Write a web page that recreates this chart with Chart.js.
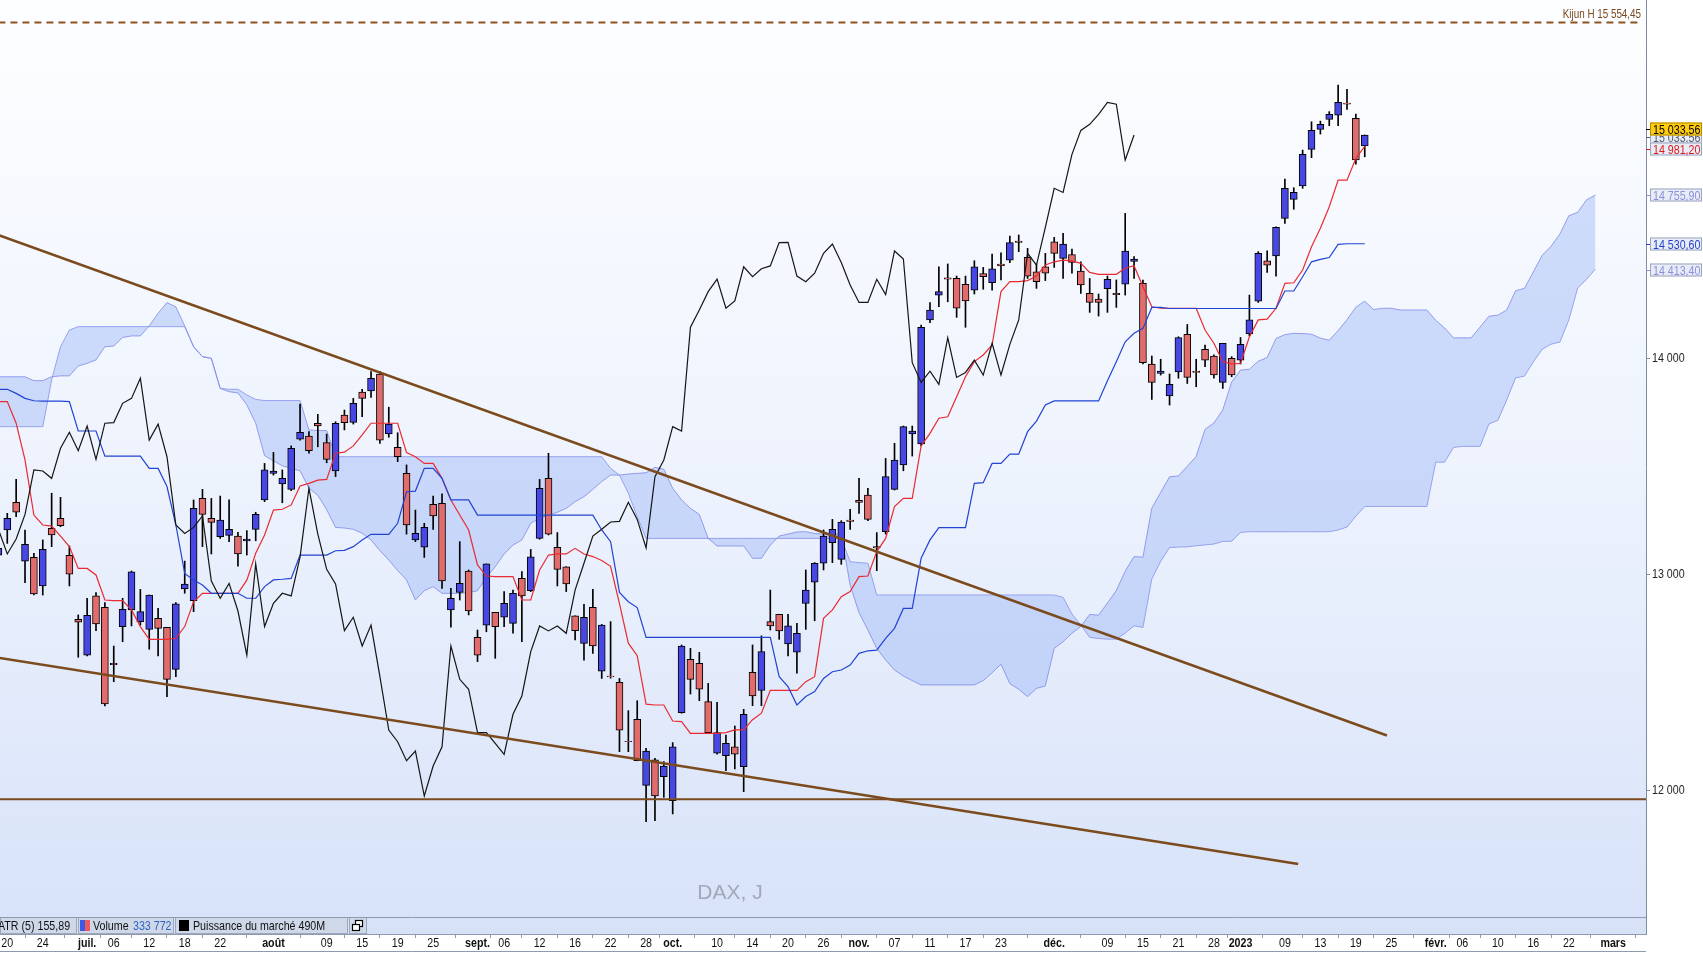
<!DOCTYPE html>
<html lang="fr">
  <head>
    <meta charset="UTF-8" />
    <title>DAX, J</title>
    <script src="https://cdn.jsdelivr.net/npm/chart.js@4"></script>
    <style>
      html, body { margin: 0; padding: 0; background: #fff; }
      #wrap { width: 1703px; height: 953px; }
    </style>
  </head>
  <body>
    <div id="wrap"><canvas id="daxChart" width="1703" height="953"></canvas></div>

    <script>
      // daily candles, index 0 = 17 juin 2022 ... 154 = 20 janv. 2023
      const opens = [
        13090, 13206, 13334, 13062, 13079, 12947, 13214, 13260, 13089, 12792,
        12627, 12901, 12848, 12589, 12759, 12836, 12782, 12746, 12797, 12755,
        12561, 12933, 12879, 13352, 13260, 13175, 13181, 13178, 13155, 13209,
        13345, 13468, 13419, 13394, 13626, 13641, 13700, 13610, 13479, 13738,
        13704, 13844, 13849, 13928, 13650, 13588, 13468, 13160, 13126, 13325,
        13329, 12836, 12917, 13016, 12709, 12766, 12825, 12802, 12774, 12982,
        12925, 13167, 13445, 13126, 13036, 12809, 12681, 12848, 12553, 12530,
        12501, 12228, 12330, 12024, 12142, 12064, 11953, 12361, 12608, 12589,
        12412, 12173, 12162, 12203, 12111, 12547, 12463, 12782, 12816, 12679,
        12640, 12866, 12964, 13052, 13147, 13070, 13252, 13343, 13368, 13129,
        13198, 13394, 13507, 13650, 13604, 14178, 14293, 14373, 14370, 14343,
        14316, 14393, 14350, 14437, 14455, 14543, 14468, 14401, 14424, 14540,
        14463, 14481, 14404, 14301, 14275, 14323, 14301, 14343, 14449, 14347,
        13974, 13931, 13826, 13938, 14111, 13941, 14042, 14011, 13889, 14000,
        13992, 14113, 14265, 14451, 14474, 14648, 14736, 14798, 14967, 15060,
        15106, 15126, 15182, 15111, 14983
      ];
      const highs = [
        13144, 13283, 13440, 13206, 13098, 13160, 13376, 13357, 13132, 12813,
        12890, 12916, 12870, 12669, 12890, 13016, 12931, 12905, 12843, 12755,
        12870, 13062, 13345, 13394, 13352, 13363, 13345, 13195, 13203, 13288,
        13514, 13565, 13484, 13595, 13789, 13661, 13741, 13650, 13707, 13761,
        13815, 13857, 13939, 13939, 13774, 13656, 13507, 13298, 13237, 13363,
        13373, 12936, 13152, 13021, 12743, 13049, 12825, 12921, 12928, 13013,
        13116, 13440, 13561, 13194, 13036, 12809, 12862, 12931, 12769, 12782,
        12519, 12370, 12416, 12196, 12149, 12134, 12222, 12674, 12658, 12640,
        12496, 12409, 12257, 12299, 12376, 12674, 12716, 12928, 12816, 12816,
        12774, 13021, 13055, 13206, 13255, 13249, 13302, 13445, 13399, 13194,
        13537, 13607, 13687, 13687, 14154, 14258, 14424, 14437, 14381, 14381,
        14452, 14421, 14483, 14489, 14566, 14571, 14509, 14437, 14486, 14560,
        14579, 14506, 14447, 14370, 14298, 14381, 14363, 14671, 14471, 14363,
        14011, 13996, 13928, 14100, 14157, 13996, 14062, 14016, 14070, 14008,
        14097, 14293, 14494, 14498, 14609, 14830, 14790, 14964, 15095, 15098,
        15142, 15265, 15245, 15131, 15034
      ];
      const lows = [
        13083, 13144, 13268, 12962, 12905, 12905, 13129, 13221, 12947, 12617,
        12623, 12740, 12392, 12504, 12689, 12762, 12766, 12654, 12623, 12435,
        12527, 12913, 12828, 13129, 13095, 13167, 13152, 13039, 13090, 13156,
        13337, 13460, 13332, 13388, 13622, 13561, 13591, 13517, 13453, 13669,
        13696, 13730, 13820, 13607, 13635, 13522, 13187, 13152, 13079, 13209,
        12936, 12756, 12882, 12813, 12597, 12735, 12612, 12759, 12728, 12689,
        12921, 13163, 13183, 12947, 12921, 12697, 12604, 12635, 12519, 12520,
        12180, 12180, 12138, 11856, 11861, 11969, 11892, 12358, 12447, 12416,
        12265, 12169, 12092, 12100, 11995, 12393, 12393, 12743, 12700, 12623,
        12543, 12746, 12786, 13021, 13055, 13047, 13209, 13283, 13249, 13018,
        13187, 13391, 13480, 13548, 13595, 14165, 14239, 14262, 14190, 14144,
        14298, 14320, 14316, 14363, 14443, 14494, 14370, 14324, 14360, 14421,
        14370, 14394, 14301, 14213, 14196, 14213, 14236, 14293, 14370, 13974,
        13810, 13923, 13784, 13908, 13884, 13869, 13962, 13908, 13861, 13915,
        13974, 14104, 14259, 14398, 14381, 14625, 14690, 14787, 14929, 15038,
        15077, 15077, 15152, 14899, 14933
      ];
      const closes = [
        13121, 13260, 13288, 13140, 12910, 13116, 13183, 13226, 13002, 12779,
        12811, 12771, 12401, 12583, 12839, 13012, 12828, 12905, 12751, 12515,
        12864, 12956, 13306, 13278, 13241, 13252, 13209, 13095, 13164, 13278,
        13484, 13479, 13445, 13584, 13658, 13573, 13687, 13533, 13700, 13703,
        13792, 13815, 13908, 13622, 13696, 13545, 13229, 13190, 13218, 13271,
        12970, 12890, 12959, 12831, 12627, 13049, 12759, 12867, 12913, 12901,
        13082, 13399, 13187, 13024, 12956, 12740, 12802, 12669, 12766, 12527,
        12280, 12226, 12138, 12183, 11975, 12114, 12203, 12669, 12515, 12469,
        12268, 12268, 12219, 12168, 12353, 12438, 12643, 12762, 12739, 12762,
        12728, 12928, 13052, 13178, 13209, 13243, 13246, 13334, 13255, 13123,
        13453, 13530, 13684, 13664, 14144, 14224, 14309, 14367, 14232, 14266,
        14424, 14378, 14415, 14428, 14536, 14537, 14381, 14355, 14394, 14486,
        14529, 14444, 14340, 14259, 14259, 14366, 14295, 14497, 14460, 13980,
        13889, 13941, 13880, 14096, 13912, 13935, 13992, 13923, 14070, 13923,
        14065, 14178, 14486, 14432, 14606, 14787, 14768, 14944, 15055, 15083,
        15129, 15185, 15176, 14918, 15033.56
      ];

      // Ichimoku lines
      const tenkan = [
        13800, 13800, 13700, 13530, 13275, 13229, 13224, 13178, 13129, 13028,
        13028, 12998, 12882, 12879, 12879, 12836, 12759, 12700, 12700, 12700,
        12705, 12759, 12874, 12913, 12913, 12913, 12913, 12913, 12974, 13098,
        13183, 13298, 13302, 13322, 13410, 13422, 13437, 13440, 13561, 13566,
        13595, 13646, 13700, 13700, 13700, 13700, 13564, 13545, 13514, 13514,
        13445, 13345, 13275, 13206, 13044, 12993, 12990, 12990, 12990, 12882,
        12882, 13021, 13090, 13095, 13095, 13121, 13095, 13083, 13065, 13038,
        12865, 12682, 12624, 12400, 12396, 12396, 12322, 12319, 12265, 12265,
        12265, 12265, 12268, 12281, 12281, 12328, 12358, 12464, 12464, 12464,
        12464, 12504, 12527, 12797, 12836, 12897, 12921, 12990, 12993, 13106,
        13167, 13314, 13352, 13352, 13595, 13653, 13723, 13730, 13823, 13915,
        13985, 14016, 14062, 14309, 14355, 14355, 14360, 14381, 14432, 14447,
        14455, 14451, 14440, 14398, 14389, 14389, 14389, 14417, 14429, 14332,
        14239, 14232, 14232, 14232, 14232, 14232, 14131, 14070, 13985, 13974,
        13977, 14100, 14178, 14182, 14232, 14347, 14350, 14409, 14517, 14602,
        14702, 14825, 14825, 14926, 14981.2
      ];
      const kijun = [
        13857, 13857, 13838, 13815, 13804, 13802, 13802, 13802, 13800, 13664,
        13664, 13664, 13548, 13548, 13548, 13548, 13548, 13491, 13491, 13407,
        13229, 13005, 12975, 12951, 12913, 12913, 12913, 12913, 12890, 12890,
        12944, 12975, 12978, 12982, 13090, 13090, 13090, 13090, 13110, 13112,
        13129, 13160, 13186, 13186, 13186, 13237, 13383, 13386, 13491, 13491,
        13445, 13345, 13345, 13345, 13275, 13275, 13275, 13275, 13275, 13275,
        13275, 13275, 13275, 13275, 13275, 13275, 13275, 13275, 13206, 13152,
        12917, 12874, 12847, 12709, 12709, 12709, 12709, 12709, 12709, 12709,
        12709, 12709, 12709, 12709, 12709, 12709, 12709, 12709, 12527, 12481,
        12396, 12435, 12458, 12519, 12550, 12558, 12581, 12635, 12647, 12650,
        12704, 12751, 12843, 12843, 13075, 13160, 13217, 13217, 13217, 13217,
        13422, 13425, 13514, 13514, 13557, 13557, 13661, 13710, 13784, 13803,
        13803, 13803, 13803, 13803, 13803, 13897, 13985, 14077, 14116, 14139,
        14236, 14236, 14231, 14231, 14231, 14231, 14231, 14231, 14231, 14231,
        14231, 14231, 14231, 14231, 14231, 14312, 14312, 14378, 14447, 14458,
        14467, 14528, 14530.6, 14530.6, 14530.6
      ];
      // cloud, already plotted 26 sessions ahead (index 0..180)
      const senkouA = [
        13915, 13915, 13915, 13915, 13897, 13897, 13915, 13919, 13919, 13965,
        13977, 13993, 14054, 14057, 14097, 14104, 14104, 14150, 14209, 14258,
        14239, 14150, 14054, 14008, 14000, 13861, 13846, 13840, 13785, 13700,
        13550, 13526, 13503, 13491, 13480, 13399, 13367, 13300, 13218, 13215,
        13209, 13191, 13160, 13110, 13067, 13018, 12975, 12882, 12925, 12944,
        12913, 12913, 12913, 12916, 12925, 12987, 13036, 13095, 13136, 13160,
        13237, 13260, 13275, 13288, 13306, 13337, 13360, 13394, 13430, 13460,
        13460, 13465, 13468, 13471, 13496, 13487, 13399, 13345, 13306, 13278,
        13167, 13132, 13132, 13132, 13132, 13075, 13075, 13136, 13178, 13187,
        13197, 13198, 13190, 13187, 13187, 13187, 12951, 12823, 12743, 12658,
        12604, 12558, 12530, 12509, 12489, 12489, 12489, 12489, 12489, 12489,
        12489, 12509, 12545, 12585, 12495, 12469, 12435, 12473, 12484, 12658,
        12689, 12728, 12760, 12815, 12812, 12868, 12926, 13015, 13083, 13080,
        13307, 13380, 13452, 13456, 13501, 13546, 13672, 13701, 13762, 13891,
        13946, 13950, 13987, 14004, 14092, 14110, 14116, 14115, 14112, 14094,
        14084, 14129, 14179, 14237, 14265, 14226, 14232, 14232, 14224, 14224,
        14224, 14224, 14176, 14141, 14095, 14095, 14095, 14145, 14195, 14200,
        14224, 14313, 14324, 14400, 14477, 14519, 14576, 14660, 14676, 14734,
        14755.9
      ];
      const senkouB = [
        13684, 13684, 13684, 13684, 13684, 13684, 13900, 14054, 14131, 14147,
        14147, 14147, 14147, 14147, 14147, 14147, 14147, 14147, 14147, 14147,
        14147, 14147, 14054, 14008, 14000, 13861, 13857, 13857, 13831, 13810,
        13805, 13805, 13805, 13805, 13805, 13669, 13666, 13666, 13545, 13545,
        13545, 13545, 13545, 13545, 13545, 13545, 13545, 13545, 13545, 13545,
        13545, 13545, 13545, 13545, 13545, 13545, 13545, 13545, 13545, 13545,
        13545, 13545, 13545, 13545, 13545, 13545, 13545, 13545, 13545, 13491,
        13460, 13376, 13268, 13167, 13167, 13167, 13167, 13167, 13167, 13167,
        13167, 13167, 13167, 13167, 13167, 13167, 13167, 13167, 13167, 13167,
        13167, 13167, 13167, 13167, 13167, 13167, 13059, 13055, 13052, 12905,
        12905, 12905, 12905, 12905, 12905, 12905, 12905, 12905, 12905, 12905,
        12905, 12905, 12905, 12905, 12905, 12905, 12905, 12905, 12905, 12905,
        12894, 12817, 12766, 12709, 12704, 12701, 12701, 12729, 12763, 12755,
        12980, 13061, 13125, 13127, 13128, 13133, 13137, 13141, 13153, 13154,
        13195, 13198, 13198, 13198, 13198, 13198, 13198, 13198, 13198, 13198,
        13198, 13206, 13220, 13270, 13315, 13315, 13315, 13315, 13315, 13315,
        13315, 13315, 13520, 13520, 13588, 13593, 13593, 13593, 13697, 13713,
        13807, 13910, 13918, 13984, 14042, 14066, 14076, 14178, 14326, 14366,
        14413.4
      ];

      // hand-drawn lines: [index, price]
      const trendUpper = [[0, 14571], [156.5, 12255]];
      const trendLower = [[0, 12615], [146.5, 11660]];
      const supportLevel = 11960;
      const kijunH = 15554.45;

      // x axis labels (session index -> text)
      const tickIdx = [1, 5, 10, 13, 17, 21, 25, 31, 37, 41, 45, 49, 54, 57, 61, 65, 69, 73,
        76, 81, 85, 89, 93, 97, 101, 105, 109, 113, 119, 125, 129, 133, 137, 140, 145, 149,
        153, 157, 162, 165, 169, 173, 177, 182];
      const tickText = ["20", "24", "juil.", "06", "12", "18", "22", "août", "09", "15", "19",
        "25", "sept.", "06", "12", "16", "22", "28", "oct.", "10", "14", "20", "26", "nov.",
        "07", "11", "17", "23", "déc.", "09", "15", "21", "28", "2023", "09", "13", "19",
        "25", "févr.", "06", "10", "16", "22", "mars"];
      const monthIdx = [10, 31, 54, 76, 97, 119, 140, 162, 182];
      const yTicks = [12000, 13000, 14000];

      // price tags on the right axis
      const tags = [
        { v: 15033.56, dy: 2, fg: "#555b66", bg: "#e8ecf6", bd: "#9aa5c0" },
        { v: 15033.56, dy: -6, fg: "#000", bg: "#ffcc10", bd: "#b48a00" },
        { v: 14981.2, dy: 3, fg: "#e01818", bg: "#e8ecf6", bd: "#9aa5c0" },
        { v: 14755.9, dy: 0, fg: "#8c90dc", bg: "#e8ecf6", bd: "#9aa5c0" },
        { v: 14530.6, dy: 0, fg: "#1f3fd0", bg: "#e8ecf6", bd: "#9aa5c0" },
        { v: 14413.4, dy: 1, fg: "#8c90dc", bg: "#e8ecf6", bd: "#9aa5c0" },
      ];

      const SANS = "'Liberation Sans', Arial, sans-serif";
      const SQUEEZE = 0.82; // the terminal uses a narrow face
      const LEGEND_H = 17;

      function fmt(v, dec) {
        const parts = v.toFixed(dec || 0).split(".");
        const head = parts[0].replace(/\B(?=(\d{3})+(?!\d))/g, " ");
        return parts[1] ? head + "," + parts[1] : head;
      }

      // condensed text drawing
      function say(ctx, text, x, y, opt) {
        ctx.save();
        ctx.font = (opt.bold ? "bold " : "") + opt.size + "px " + SANS;
        ctx.fillStyle = opt.color;
        ctx.textAlign = opt.align || "left";
        ctx.textBaseline = "middle";
        ctx.translate(x, y);
        ctx.scale(SQUEEZE, 1);
        ctx.fillText(text, 0, 0);
        ctx.restore();
      }

      const xy = (arr) => arr.map((v, k) => ({ x: k, y: v }));
      const seg = (pts) => pts.map((p) => ({ x: p[0], y: p[1] }));

      const bodies = opens.map((o, i) => ({ x: i, y: [o, closes[i]] }));
      const wicks = lows.map((l, i) => ({ x: i, y: [l, highs[i]] }));
      const bodyColors = opens.map((o, i) => (closes[i] >= o ? "#4747e4" : "#e26b6b"));
      // chikou = closing prices drawn 26 sessions back
      const chikou = closes.slice(26).map((c, k) => ({ x: k, y: c }));

      const decor = {
        id: "decor",
        beforeDraw(chart) {
          const { ctx, chartArea: a } = chart;
          ctx.save();
          const g = ctx.createLinearGradient(0, a.top, 0, a.bottom - LEGEND_H);
          g.addColorStop(0, "#fdfeff");
          g.addColorStop(0.5, "#eef3fd");
          g.addColorStop(1, "#d8e3f9");
          ctx.fillStyle = g;
          ctx.fillRect(a.left, a.top, a.right - a.left, a.bottom - LEGEND_H - a.top);
          ctx.restore();
        },
        beforeDatasetsDraw(chart) {
          const { ctx } = chart;
          ctx.save();
          ctx.fillStyle = "#a0a8ba";
          ctx.font = "21px " + SANS;
          ctx.textAlign = "center";
          ctx.textBaseline = "middle";
          ctx.fillText("DAX, J", 730, 893);
          ctx.restore();
        },
        afterDraw(chart) {
          const { ctx, chartArea: a, scales } = chart;
          const y = scales.y, x = scales.x;
          ctx.save();

          // Kijun H label
          say(ctx, "Kijun H " + fmt(kijunH, 2), a.right - 5, 15,
            { size: 12, color: "#7a4a22", align: "right" });

          // date labels under the axis
          tickIdx.forEach((v, k) => {
            say(ctx, tickText[k], x.getPixelForValue(v), 943,
              { size: 13, color: "#111", align: "center", bold: monthIdx.includes(v) });
          });

          // legend strip
          const ly = a.bottom - LEGEND_H;
          ctx.fillStyle = "#d8e2f6";
          ctx.fillRect(a.left, ly, a.right - a.left, LEGEND_H);
          const boxes = [[0, 77], [78, 174], [175, 348], [349, 367]];
          boxes.forEach(([x0, x1]) => {
            ctx.fillStyle = "#cfd8e8";
            ctx.fillRect(x0, ly, x1 - x0, LEGEND_H);
            ctx.strokeStyle = "#9ea8bc";
            ctx.lineWidth = 1;
            ctx.strokeRect(x0 + 0.5, ly + 0.5, x1 - x0 - 1, LEGEND_H - 1);
          });
          ctx.strokeStyle = "#8e9ab0";
          ctx.beginPath();
          ctx.moveTo(a.left, ly + 0.5);
          ctx.lineTo(a.right, ly + 0.5);
          ctx.stroke();

          const ty = ly + LEGEND_H / 2 + 0.5;
          say(ctx, "ATR (5) 155,89", -2, ty, { size: 13, color: "#111" });
          ctx.fillStyle = "#3a5ae8";
          ctx.fillRect(80, ly + 3, 5, 11);
          ctx.fillStyle = "#ee5a5a";
          ctx.fillRect(85, ly + 3, 5, 11);
          say(ctx, "Volume", 93, ty, { size: 13, color: "#111" });
          say(ctx, "333 772", 133, ty, { size: 13, color: "#2d63c8" });
          ctx.fillStyle = "#000";
          ctx.fillRect(179, ly + 3, 10, 11);
          say(ctx, "Puissance du marché 490M", 193, ty, { size: 13, color: "#111" });
          // little window icon
          ctx.strokeStyle = "#000";
          ctx.lineWidth = 1.2;
          ctx.fillStyle = "#fff";
          ctx.fillRect(355.5, ly + 3.5, 7, 6);
          ctx.strokeRect(355.5, ly + 3.5, 7, 6);
          ctx.fillRect(352.5, ly + 7.5, 7, 6);
          ctx.strokeRect(352.5, ly + 7.5, 7, 6);

          // bottom rule of the date axis
          ctx.strokeStyle = "#8e9ab0";
          ctx.lineWidth = 1;
          ctx.beginPath();
          ctx.moveTo(0, 951.5);
          ctx.lineTo(a.right, 951.5);
          ctx.stroke();

          // right axis price tags
          tags.forEach((t) => {
            const cy = Math.round(y.getPixelForValue(t.v) + t.dy);
            const x0 = a.right + 4, w = 52, h = 13;
            ctx.strokeStyle = t.fg;
            ctx.beginPath();
            ctx.moveTo(a.right, cy + 0.5);
            ctx.lineTo(x0, cy + 0.5);
            ctx.stroke();
            ctx.fillStyle = t.bg;
            ctx.fillRect(x0, cy - h / 2, w, h);
            ctx.strokeStyle = t.bd;
            ctx.strokeRect(x0 + 0.5, cy - h / 2 + 0.5, w - 1, h - 1);
            say(ctx, fmt(t.v, 2), x0 + 3, cy + 1, { size: 13, color: t.fg });
          });

          // value labels of the price axis
          yTicks.forEach((v) => {
            say(ctx, fmt(v), a.right + 6, y.getPixelForValue(v), { size: 13, color: "#222" });
          });
          ctx.restore();
        },
      };

      const ctx = document.getElementById("daxChart").getContext("2d");
      const daxChart = new Chart(ctx, {
        type: "line",
        data: {
          datasets: [
            {
              label: "Senkou A",
              data: xy(senkouA),
              borderColor: "rgba(128,136,232,0.8)",
              backgroundColor: "rgba(150,178,246,0.42)",
              borderWidth: 1,
              fill: "+1",
              order: 6,
            },
            {
              label: "Senkou B",
              data: xy(senkouB),
              borderColor: "rgba(128,136,232,0.8)",
              borderWidth: 1,
              fill: false,
              order: 6,
            },
            {
              type: "bar",
              label: "mèches",
              data: wicks,
              backgroundColor: "#000",
              barThickness: 1,
              grouped: false,
              order: 5,
            },
            {
              type: "bar",
              label: "DAX",
              data: bodies,
              backgroundColor: bodyColors,
              borderColor: "#000",
              borderWidth: 1,
              borderSkipped: false,
              barThickness: 7,
              grouped: false,
              order: 4,
            },
            { label: "Chikou", data: chikou, borderColor: "#151515", borderWidth: 1.2, order: 3 },
            { label: "Kijun", data: xy(kijun), borderColor: "#2144d4", borderWidth: 1.2, order: 3 },
            { label: "Tenkan", data: xy(tenkan), borderColor: "#ea2a30", borderWidth: 1.2, order: 3 },
            { label: "oblique haute", data: seg(trendUpper), borderColor: "#7b4a1d", borderWidth: 2.6, order: 1 },
            { label: "oblique basse", data: seg(trendLower), borderColor: "#7b4a1d", borderWidth: 2.6, order: 1 },
            {
              label: "support",
              data: seg([[0, supportLevel], [186, supportLevel]]),
              borderColor: "#7b4a1d",
              borderWidth: 2.2,
              order: 1,
            },
            {
              label: "Kijun H",
              data: seg([[0, kijunH], [185, kijunH]]),
              borderColor: "#8a5520",
              borderWidth: 2,
              borderDash: [7, 5],
              order: 1,
            },
          ],
        },
        options: {
          responsive: false,
          animation: false,
          layout: { padding: 0 },
          elements: {
            point: { radius: 0, hoverRadius: 0 },
            line: { tension: 0, fill: false },
          },
          plugins: {
            legend: { display: false },
            tooltip: { enabled: false },
          },
          scales: {
            x: {
              type: "linear",
              min: 0.18,
              max: 185.7,
              offset: false,
              grid: { drawOnChartArea: false, tickLength: 4, color: "#8e9ab0" },
              border: { color: "#8e9ab0" },
              afterBuildTicks: (s) => {
                s.ticks = tickIdx.map((v) => ({ value: v }));
              },
              afterFit: (s) => {
                s.height = 19;
                s.paddingLeft = 0;
                s.paddingRight = 0;
              },
              ticks: { display: false },
            },
            y: {
              type: "linear",
              position: "right",
              min: 11336.4,
              max: 15658.5,
              grid: { drawOnChartArea: false, tickLength: 4, color: "#7d8aa0" },
              border: { color: "#7d8aa0" },
              afterBuildTicks: (s) => {
                s.ticks = yTicks.map((v) => ({ value: v }));
              },
              afterFit: (s) => {
                s.width = 57;
                s.paddingTop = 0;
                s.paddingBottom = 0;
              },
              ticks: { display: false },
            },
          },
        },
        plugins: [decor],
      });
    </script>
  </body>
</html>
